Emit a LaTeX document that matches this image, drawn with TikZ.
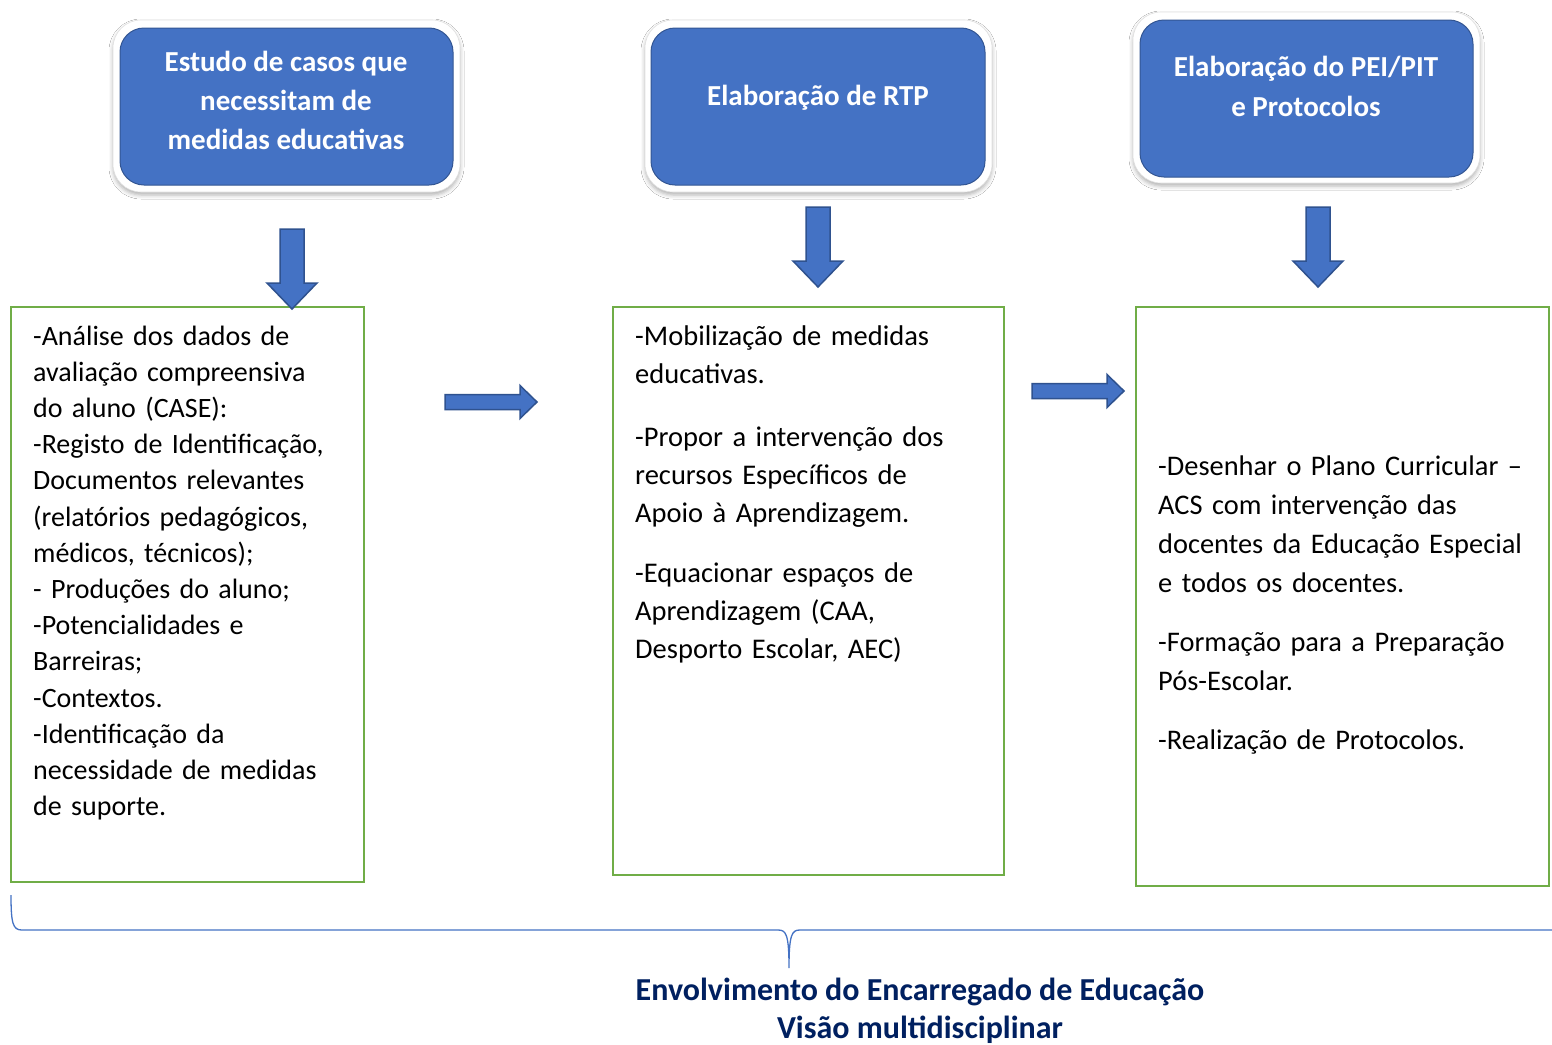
\documentclass[tikz,border=0pt]{standalone}
\usepackage{fontspec}
\setmainfont{Carlito}
\usetikzlibrary{shadows.blur}
\definecolor{boxblue}{HTML}{4472C4}
\definecolor{arrowedge}{HTML}{2F528F}
\definecolor{boxgreen}{HTML}{70AD47}
\definecolor{navy}{HTML}{002060}
\begin{document}
\begin{tikzpicture}[x=1pt,y=-1pt,
  frame/.style={draw=black!12, line width=0.6pt, fill=white, rounded corners=28pt, inner sep=0pt,
    blur shadow={shadow xshift=0pt, shadow yshift=-3pt, shadow blur radius=4pt, shadow opacity=30}},
  bluebox/.style={fill=boxblue, draw=boxblue!75!black, line width=1pt, rounded corners=24pt, inner sep=0pt},
  title/.style={text=white, font=\fontsize{29}{39}\selectfont\bfseries, align=center, inner sep=0pt},
  greenbox/.style={draw=boxgreen, line width=2.5pt, inner sep=0pt},
  body/.style={align=left, anchor=base west, inner sep=0pt, text width=#1},
  blockarrow/.style={fill=boxblue, draw=arrowedge, line width=1.5pt, line join=miter},
  darr/.pic={\draw[blockarrow] (-12,0) -- (12,0) -- (12,54) -- (25,54) -- (0,80) -- (-25,54) -- (-12,54) -- cycle;},
  rarr/.pic={\draw[blockarrow] (0,-7.5) -- (75,-7.5) -- (75,-16.5) -- (92,0) -- (75,16.5) -- (75,7.5) -- (0,7.5) -- cycle;}
]
\useasboundingbox[fill=white] (0,0) rectangle (1552,1044);

% top boxes
\node (f1) [frame, minimum width=347pt, minimum height=172pt] at (286.5,106) {};
\node (t1) [bluebox, minimum width=333pt, minimum height=157pt] at (286.5,106.5) {};
\node (t1x) [title] at (286,100) {Estudo de casos que\\necessitam de\\medidas educativas};

\node (f2) [frame, minimum width=347pt, minimum height=172pt] at (818.5,106) {};
\node (t2) [bluebox, minimum width=334pt, minimum height=157pt] at (818,106.5) {};
\node (t2x) [title] at (818,98) {Elaboração de RTP};

\node (f3) [frame, minimum width=347pt, minimum height=171pt] at (1306.5,97.5) {};
\node (t3) [bluebox, minimum width=333pt, minimum height=157pt] at (1306.5,98.5) {};
\node (t3x) [title, font=\fontsize{29}{40}\selectfont\bfseries] at (1306,86) {Elaboração do PEI/PIT\\e Protocolos};

% green boxes
\node (g1) [greenbox, minimum width=353pt, minimum height=575pt] at (187.5,594.5) {};
\node (g2) [greenbox, minimum width=391pt, minimum height=568pt] at (808.5,591) {};
\node (g3) [greenbox, minimum width=413pt, minimum height=579pt] at (1342.5,596.5) {};

% block arrows
\pic at (292,229) {darr};
\pic at (818,207) {darr};
\pic at (1318,207) {darr};
\pic at (445,402) {rarr};
\pic at (1032,391) {rarr};

% body texts
\node (b1) [body=330pt, font=\fontsize{28}{36.2}\selectfont] at (33,345)
{-Análise dos dados de\\ avaliação compreensiva\\ do aluno (CASE):\\ -Registo de Identificação,\\ Documentos relevantes\\ (relatórios pedagógicos,\\ médicos, técnicos);\\ - Produções do aluno;\\ -Potencialidades e\\ Barreiras;\\ -Contextos.\\ -Identificação da\\ necessidade de medidas\\ de suporte.};

\node (b2) [body=380pt, font=\fontsize{28.5}{38}\selectfont] at (635,345)
{-Mobilização de medidas\\ educativas.\\[25pt] -Propor a intervenção dos\\ recursos Específicos de\\ Apoio à Aprendizagem.\\[22pt] -Equacionar espaços de\\ Aprendizagem (CAA,\\ Desporto Escolar, AEC)};

\node (b3) [body=400pt, font=\fontsize{28.4}{39}\selectfont] at (1158,475)
{-Desenhar o Plano Curricular --\\ ACS com intervenção das\\ docentes da Educação Especial\\ e todos os docentes.\\[20pt] -Formação para a Preparação\\ Pós-Escolar.\\[20pt] -Realização de Protocolos.};

% brace
\coordinate (bl) at (11,895);
\coordinate (bm) at (789,968);
\coordinate (br) at (1552,930);
\draw[boxblue, line width=1.3pt] (bl) .. controls (11,924) and (13,930) .. (22,930) -- (778,930)
  .. controls (786,930) and (789,934) .. (bm)
  .. controls (789,934) and (792,930) .. (800,930) -- (br);

% bottom text
\node (bt) [font=\fontsize{32}{38}\selectfont\bfseries, text=navy, align=center, inner sep=0pt] at (920,1011)
{Envolvimento do Encarregado de Educação\\Visão multidisciplinar};
\end{tikzpicture}
\end{document}
